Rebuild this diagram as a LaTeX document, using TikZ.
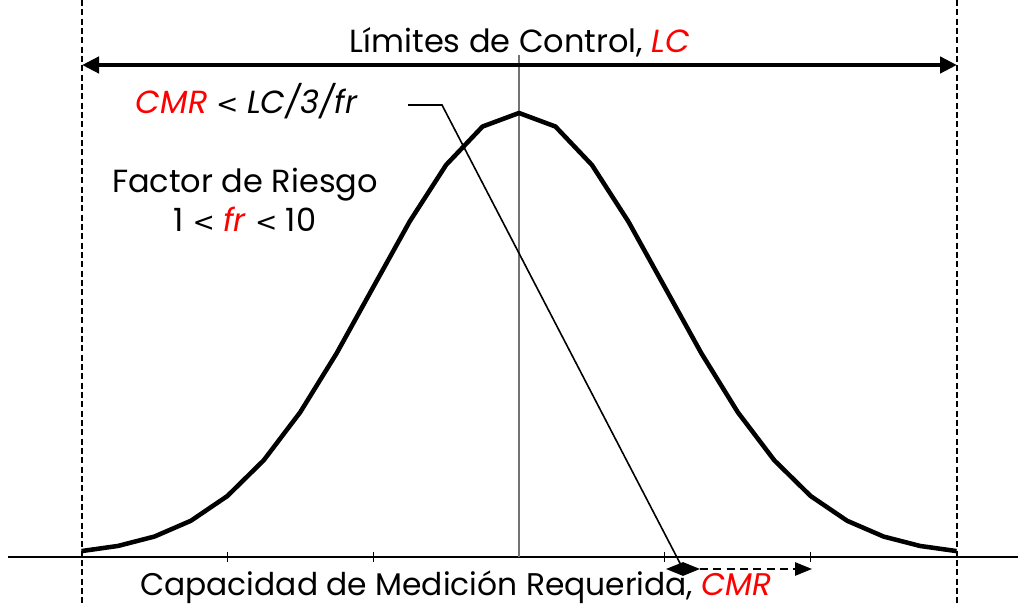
\documentclass[tikz,border=0pt]{standalone}
\usepackage{fontspec}
\setmainfont{Poppins}
\newfontfamily\lessfont{DejaVu Sans}
\usepackage{tikz}
\usetikzlibrary{arrows.meta}
\newcommand{\hlvar}[1]{\textcolor{red}{\textit{#1}}}
\newcommand{\lt}{{\lessfont\fontsize{20}{24}\selectfont <}}

\begin{document}
\begin{tikzpicture}[
		x=0.75pt,y=-0.75pt,
		>={Triangle[length=12.75pt,width=12pt]},
		txt/.style={font=\fontsize{24}{28}\selectfont,inner sep=0pt,anchor=base},
		limit/.style={dash pattern=on 4.5pt off 2.5pt,line width=1.6pt},
		bell/.style={line width=3.4pt,line join=round},
		small/.style={line width=1.2pt,>={Triangle[length=12.75pt,width=10pt]}}
	]
		\useasboundingbox (0,0) rectangle (1018,605);

		% axis and limits
		\coordinate (axis_l) at (8,557);
		\coordinate (axis_r) at (1018,557);
		\draw [line width=1.1pt] (axis_l) -- (axis_r);
		\foreach \t in {-2,-1,1,2}
			\draw [line width=0.9pt] ({519+145.83*\t},552) -- ++(0,10);
		\draw [limit] (82,0) -- (82,605);
		\draw [limit] (957,0) -- (957,605);
		\draw [black!55,line width=0.9pt] (519,55) -- (519,557);

		% curve
		\draw [bell] plot [domain=-3:3,samples=25]
			({519+145.83*\x},{556-443*exp(-\x*\x/2)});

		% control limits
		\coordinate (lc_l) at (82,65);
		\coordinate (lc_r) at (957,65);
		\draw [<->,line width=3.2pt] (lc_l) -- (lc_r);
		\node [txt] (title) at (520,53) {Límites de Control, \hlvar{LC}};

		% notes
		\node [txt] (cmr_note) at (247,114) {\hlvar{CMR} \lt{} \textit{LC/3/fr}};
		\node [txt] (factor) at (245,193) {Factor de Riesgo};
		\node [txt] (range) at (245,232) {1 \lt{} \hlvar{fr} \lt{} 10};
		\node [txt,font=\fontsize{23.5}{28}\selectfont] (xlabel) at (456,596)
			{Capacidad de Medición Requerida, \hlvar{CMR}};

		\coordinate (note_end) at (408,105);
		\coordinate (kink) at (442,105);
		\coordinate (cmr_l) at (666,569);
		\coordinate (cmr_m) at (700,569);
		\coordinate (cmr_r) at (812,569);
		\draw [line width=1.2pt] (note_end) -- (kink) -- (683,569);
		\draw [small,<->] (cmr_l) -- (cmr_m);
		\draw [small,->,dash pattern=on 6pt off 4pt] (cmr_m) -- (cmr_r);
	\end{tikzpicture}
\end{document}
